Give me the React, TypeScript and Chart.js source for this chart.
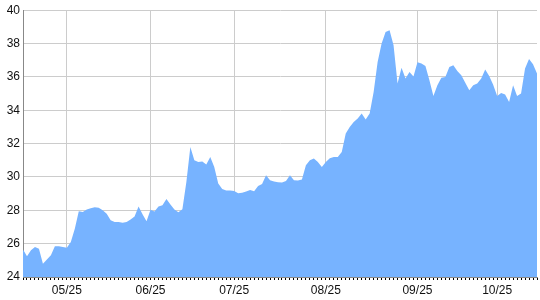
import React, { useEffect, useRef } from "react";
import { Chart, registerables } from "chart.js";

Chart.register(...registerables);

// Daily values (trading days)
const values: number[] = [
  25.65, 25.25, 25.6, 25.8, 25.7, 24.8, 25.05, 25.3, 25.85, 25.85,
  25.8, 25.75, 26.1, 26.9, 27.95, 27.9, 28.05, 28.12, 28.18, 28.15,
  28.0, 27.8, 27.4, 27.3, 27.3, 27.25, 27.3, 27.45, 27.63, 28.23,
  27.77, 27.35, 28.03, 27.93, 28.23, 28.3, 28.68, 28.35, 28.05, 27.88,
  28.07, 29.7, 31.8, 31.0, 30.9, 30.93, 30.75, 31.2, 30.6, 29.6,
  29.27, 29.18, 29.18, 29.15, 29.02, 29.05, 29.13, 29.22, 29.14, 29.46,
  29.57, 30.1, 29.8, 29.73, 29.68, 29.67, 29.75, 30.1, 29.8, 29.78,
  29.85, 30.7, 31.0, 31.1, 30.9, 30.6, 30.9, 31.12, 31.2, 31.2,
  31.5, 32.6, 33.0, 33.3, 33.5, 33.8, 33.45, 33.8, 35.1, 36.9,
  38.0, 38.7, 38.8, 37.9, 35.6, 36.55, 35.9, 36.3, 36.02, 36.88,
  36.8, 36.65, 35.8, 34.85, 35.5, 35.95, 36.0, 36.6, 36.7, 36.35,
  36.1, 35.65, 35.2, 35.5, 35.6, 35.9, 36.45, 36.05, 35.53, 34.85,
  35.03, 34.95, 34.5, 35.5, 34.85, 35.0, 36.5, 37.08, 36.76, 36.2,
];

// Tick labels and the trading-day index they sit on
const tickLabels: string[] = ["05/25", "06/25", "07/25", "08/25", "09/25", "10/25"];
const tickIndex: number[] = [11, 32, 53, 76, 99, 119];

const categories: string[] = values.map((_, i) => {
  const k = tickIndex.indexOf(i);
  return k >= 0 ? tickLabels[k] : "d" + i;
});

const yMin = 24;
const yMax = 40;
const yStep = 2;

export default function App() {
  const ref = useRef<HTMLCanvasElement | null>(null);

  useEffect(() => {
    document.body.style.margin = "0";
    const canvas = ref.current;
    if (!canvas) return;
    const font = { family: "'Liberation Sans', Arial, sans-serif", size: 12 };
    const chart = new Chart(canvas, {
      type: "line",
      data: {
        labels: categories,
        datasets: [
          {
            data: values,
            fill: "start",
            backgroundColor: "rgb(119,179,255)",
            borderColor: "rgb(119,179,255)",
            borderWidth: 0,
            pointRadius: 0,
            tension: 0,
          },
        ],
      },
      options: {
        animation: false,
        responsive: false,
        maintainAspectRatio: false,
        layout: { padding: { top: 8, right: 1, left: 0, bottom: 0 } },
        plugins: { legend: { display: false }, tooltip: { enabled: false } },
        scales: {
          x: {
            type: "category",
            offset: false,
            afterFit: (s: any) => {
              s.height = 23;
            },
            grid: {
              color: (ctx: any) => (tickIndex.includes(ctx.index) ? "#cccccc" : "rgba(0,0,0,0)"),
              tickColor: "#000000",
              tickLength: 3,
              drawTicks: true,
            },
            border: { display: true, color: "#888888" },
            ticks: {
              autoSkip: false,
              maxRotation: 0,
              minRotation: 0,
              padding: 3,
              font,
              color: "#111111",
              callback: (_v: any, i: number) => {
                const k = tickIndex.indexOf(i);
                return k >= 0 ? tickLabels[k] : "";
              },
            },
          },
          y: {
            min: yMin,
            max: yMax,
            afterFit: (s: any) => {
              s.width = 23;
            },
            grid: { color: "#cccccc", drawTicks: false },
            border: { display: true, color: "#888888" },
            ticks: { stepSize: yStep, padding: 3, font, color: "#111111" },
          },
        },
      },
    });
    return () => chart.destroy();
  }, []);

  return <canvas ref={ref} width={540} height={300} style={{ display: "block" }} />;
}
